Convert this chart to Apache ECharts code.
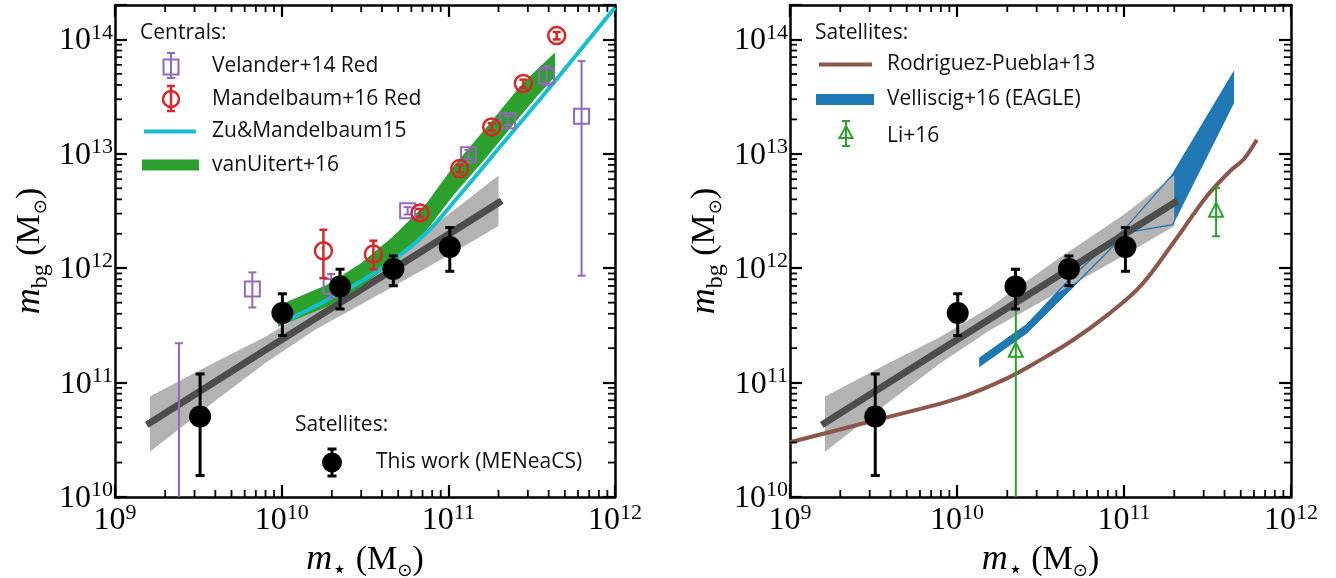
<!DOCTYPE html>
<html><head><meta charset="utf-8">
<script src="https://cdn.jsdelivr.net/npm/echarts@6/dist/echarts.min.js"></script>
<style>html,body{margin:0;padding:0;background:#fff}#c{width:1336px;height:578px}</style>
</head><body><div id="c"></div><script>
// ---------- data ----------
// This work (MENeaCS) satellites, both panels
const thisX  = [3.24e9, 1.01e10, 2.24e10, 4.68e10, 1.02e11];
const thisY  = [5.05e10, 4.06e11, 6.93e11, 9.84e11, 1.53e12];
const thisLo = [1.54e10, 2.58e11, 4.4e11, 7.03e11, 9.4e11];
const thisHi = [1.19e11, 5.98e11, 9.8e11, 1.28e12, 2.27e12];
// best-fit line and its band
const fitX = [1.55e9, 2.09e11];
const fitY = [4.27e10, 3.89e12];
const bandX  = [1.62e9, 3.98e9, 7.94e9, 1.58e10, 3.98e10, 1.0e11, 2.0e11];
const bandHi = [7.55e10, 1.51e11, 2.51e11, 4.57e11, 1.19e12, 2.95e12, 6.46e12];
const bandLo = [2.49e10, 6.92e10, 1.48e11, 2.88e11, 6.07e11, 1.29e12, 2.34e12];
// Velander+14 Red
const velX  = [2.42e9, 6.67e9, 1.98e10, 5.7e10, 1.32e11, 2.27e11, 3.89e11, 6.3e11];
const velY  = [5.0e9, 6.58e11, 6.93e11, 3.18e12, 9.84e12, 1.95e13, 4.78e13, 2.13e13];
const velLo = [1e8, 4.54e11, 5.48e11, 2.95e12, 9.0e12, 1.78e13, 3.96e13, 8.6e11];
const velHi = [2.21e11, 9.2e11, 8.9e11, 3.42e12, 1.08e13, 2.14e13, 5.83e13, 6.46e13];
// Mandelbaum+16 Red
const manX  = [1.78e10, 3.55e10, 6.76e10, 1.17e11, 1.82e11, 2.82e11, 4.47e11];
const manY  = [1.42e12, 1.33e12, 3.04e12, 7.43e12, 1.72e13, 4.12e13, 1.08e14];
const manLo = [8.2e11, 9.8e11, 2.8e12, 6.9e12, 1.6e13, 3.8e13, 1.0e14];
const manHi = [2.17e12, 1.74e12, 3.3e12, 8.0e12, 1.85e13, 4.45e13, 1.16e14];
// Zu & Mandelbaum 15
const zuX = [1.0e10, 1.86e10, 2.95e10, 4.66e10, 7.4e10, 1.17e11, 2.14e11, 3.89e11, 1.0e12];
const zuY = [3.31e11, 5.25e11, 7.59e11, 1.17e12, 2.04e12, 4.37e12, 1.25e13, 3.53e13, 1.9e14];
// van Uitert+16 band
const vuX  = [9.5e9, 1.87e10, 2.95e10, 4.66e10, 7.45e10, 1.07e11, 1.71e11, 2.69e11, 3.40e11, 4.37e11];
const vuHi = [4.70e11, 7.18e11, 1.09e12, 1.89e12, 3.74e12, 7.73e12, 1.73e13, 3.88e13, 5.46e13, 7.69e13];
const vuLo = [3.08e11, 4.60e11, 6.75e11, 1.14e12, 2.17e12, 4.32e12, 9.46e12, 2.12e13, 3.17e13, 4.74e13];
// Rodriguez-Puebla+13
const rpX = [1.0e9, 3.30e9, 1.0e10, 1.99e10, 3.16e10, 4.98e10, 7.94e10, 1.25e11, 1.97e11, 3.13e11, 4.32e11, 5.19e11, 6.24e11];
const rpY = [3.01e10, 4.72e10, 7.24e10, 1.09e11, 1.58e11, 2.37e11, 3.89e11, 6.93e11, 1.66e12, 4.25e12, 7.08e12, 8.91e12, 1.33e13];
// Velliscig+16 (EAGLE) band
const vsX  = [1.37e10, 2.61e10, 4.75e10, 1.04e11, 1.95e11, 4.52e11];
const vsHi = [1.64e11, 3.20e11, 8.09e11, 2.31e12, 6.58e12, 5.12e13];
const vsLo = [1.40e11, 2.72e11, 6.49e11, 2.05e12, 2.40e12, 2.79e13];
// Li+16
const liX  = [2.25e10, 3.56e11];
const liY  = [1.94e11, 3.25e12];
const liLo = [1e8, 1.9e12];
const liHi = [9.7e11, 5.04e12];
// axes
const X_MIN = 1e9, X_MAX = 1e12, Y_MIN = 1e10, Y_MAX = 2e14;
const MINOR = [2,3,4,5,6,7,8,9];

const C = {purple:'#9467bd', red:'#d62728', cyan:'#17becf', green:'#2ca02c', brown:'#8c564b', blue:'#1f77b4', band:'#b3b3b3', fit:'#4d4d4d'};
const SERIF = "'Liberation Serif','DejaVu Serif',serif";
const SANS = "'Open Sans','DejaVu Sans',sans-serif";

function pairs(xs, ys){ return xs.map((x,i)=>[x, ys[i]]); }

function tickFmt(v){
  const e = Math.log10(v), r = Math.round(e);
  if (Math.abs(e - r) > 1e-6) return '';
  return '{b|10}{e|' + r + '}';
}
const tickRich = {
  b:{fontFamily:SERIF, fontSize:32, color:'#000', verticalAlign:'top', padding:[3,0,0,0]},
  e:{fontFamily:SERIF, fontSize:22, color:'#000', verticalAlign:'top'}
};
const nameRich = {
  i:{fontFamily:SERIF, fontStyle:'italic', fontSize:36, color:'#000', verticalAlign:'top'},
  s:{fontFamily:SERIF, fontSize:24, color:'#000', verticalAlign:'top', padding:[17,0,0,0]},
  r:{fontFamily:SERIF, fontSize:34, color:'#000', verticalAlign:'top', padding:[1,0,0,0]},
  o:{fontFamily:"'DejaVu Sans',sans-serif", fontSize:18, color:'#000', verticalAlign:'top', padding:[20,0,0,0]}
};

function xAxes(grid){
  const base = {type:'log', gridIndex:grid, min:X_MIN, max:X_MAX, logBase:10,
    axisLine:{onZero:false, lineStyle:{color:'#000', width:2.5}},
    axisTick:{inside:true, length:12, lineStyle:{color:'#000', width:2.2}},
    splitLine:{show:false}, minorTick:{show:false}};
  return [
    Object.assign({}, base, {position:'bottom',
      axisLabel:{formatter:tickFmt, rich:tickRich, margin:5, showMinLabel:true, showMaxLabel:true, hideOverlap:false},
      name:'{i|m}{s|⋆}{r| (M}{o|⊙}{r|)}', nameLocation:'middle', nameGap:35,
      nameTextStyle:{rich:nameRich, verticalAlign:'top'}}),
    Object.assign({}, base, {position:'top', axisLabel:{show:false}})
  ];
}
function yAxes(grid){
  const base = {type:'log', gridIndex:grid, min:Y_MIN, max:Y_MAX, logBase:10,
    axisLine:{onZero:false, lineStyle:{color:'#000', width:2.5}},
    axisTick:{inside:true, length:12, lineStyle:{color:'#000', width:2.2}},
    splitLine:{show:false}, minorTick:{show:false}};
  return [
    Object.assign({}, base, {position:'left',
      axisLabel:{formatter:tickFmt, rich:tickRich, margin:2, showMaxLabel:true, hideOverlap:false},
      name:'{i|m}{s|bg}{r| (M}{o|⊙}{r|)}', nameLocation:'middle', nameGap:62, nameRotate:90,
      nameTextStyle:{rich:nameRich}}),
    Object.assign({}, base, {position:'right', axisLabel:{show:false}})
  ];
}

function minorTicks(xi, yi){
  const xv = [], yv = [];
  for (let d = 9; d < 12; d++) MINOR.forEach(k=>{ const v = k*Math.pow(10,d); if (v > X_MIN && v < X_MAX) xv.push(v); });
  for (let d = 10; d < 15; d++) MINOR.forEach(k=>{ const v = k*Math.pow(10,d); if (v > Y_MIN && v < Y_MAX*0.999) yv.push(v); });
  return {type:'custom', xAxisIndex:xi, yAxisIndex:yi, silent:true, z:30, clip:false,
    data:[[X_MIN, Y_MIN]],
    renderItem(p, api){
      const ch = [], st = {stroke:'#000', lineWidth:1.8}, L = 7;
      xv.forEach(v=>{
        const b = api.coord([v, Y_MIN]), t = api.coord([v, Y_MAX]);
        ch.push({type:'line', shape:{x1:b[0], y1:b[1], x2:b[0], y2:b[1]-L}, style:st});
        ch.push({type:'line', shape:{x1:t[0], y1:t[1], x2:t[0], y2:t[1]+L}, style:st});
      });
      yv.forEach(v=>{
        const l = api.coord([X_MIN, v]), r = api.coord([X_MAX, v]);
        ch.push({type:'line', shape:{x1:l[0], y1:l[1], x2:l[0]+L, y2:l[1]}, style:st});
        ch.push({type:'line', shape:{x1:r[0], y1:r[1], x2:r[0]-L, y2:r[1]}, style:st});
      });
      return {type:'group', children:ch};
    }};
}

function errSeries(xs, ys, lo, hi, color, lw, cap, xi, yi, z){
  return {type:'custom', xAxisIndex:xi, yAxisIndex:yi, z:z, clip:true, silent:true,
    data: xs.map((x,i)=>[x, ys[i], lo[i], hi[i]]),
    renderItem(p, api){
      const x = api.value(0);
      const a = api.coord([x, api.value(2)]), b = api.coord([x, api.value(3)]);
      const st = {stroke:color, lineWidth:lw};
      return {type:'group', children:[
        {type:'line', shape:{x1:a[0], y1:a[1], x2:b[0], y2:b[1]}, style:st},
        {type:'line', shape:{x1:a[0]-cap, y1:a[1], x2:a[0]+cap, y2:a[1]}, style:st},
        {type:'line', shape:{x1:b[0]-cap, y1:b[1], x2:b[0]+cap, y2:b[1]}, style:st}
      ]};
    }};
}

function bandSeries(xs, hi, lo, style, xi, yi, z){
  return {type:'custom', xAxisIndex:xi, yAxisIndex:yi, z:z, clip:true, silent:true,
    data:[[xs[0], hi[0]]],
    renderItem(p, api){
      const pts = xs.map((x,i)=>api.coord([x, hi[i]]));
      for (let i = xs.length-1; i >= 0; i--) pts.push(api.coord([xs[i], lo[i]]));
      return {type:'polygon', shape:{points:pts}, style:style};
    }};
}

function lineSeries(xs, ys, color, width, xi, yi, z, smooth){
  return {type:'line', xAxisIndex:xi, yAxisIndex:yi, z:z, data:pairs(xs, ys), showSymbol:false,
    symbol:'none', clip:true, silent:true, smooth:smooth || false,
    lineStyle:{color:color, width:width, opacity:1}, itemStyle:{color:color}};
}

function scatterSeries(xs, ys, symbol, size, itemStyle, xi, yi, z){
  return {type:'scatter', xAxisIndex:xi, yAxisIndex:yi, z:z, data:pairs(xs, ys), symbol:symbol,
    symbolSize:size, itemStyle:Object.assign({opacity:1}, itemStyle), clip:true, silent:true};
}

const series = [
  // ---- left panel ----
  bandSeries(bandX, bandHi, bandLo, {fill:C.band}, 0, 0, 1),
  lineSeries(fitX, fitY, C.fit, 7, 0, 0, 2),
  bandSeries(vuX, vuHi, vuLo, {fill:C.green}, 0, 0, 3),
  lineSeries(zuX, zuY, C.cyan, 4, 0, 0, 4, 0.35),
  scatterSeries(velX, velY, 'rect', 15, {color:'rgba(0,0,0,0)', borderColor:C.purple, borderWidth:2}, 0, 0, 5),
  errSeries(velX, velY, velLo, velHi, C.purple, 2, 4, 0, 0, 5),
  scatterSeries(manX, manY, 'circle', 17, {color:'rgba(0,0,0,0)', borderColor:C.red, borderWidth:2.5}, 0, 0, 6),
  errSeries(manX, manY, manLo, manHi, C.red, 2.5, 4, 0, 0, 6),
  errSeries(thisX, thisY, thisLo, thisHi, '#000', 3, 4.5, 0, 0, 7),
  scatterSeries(thisX, thisY, 'circle', 22, {color:'#000'}, 0, 0, 8),
  minorTicks(0, 0),
  // ---- right panel ----
  bandSeries(vsX, vsHi, vsLo, {fill:C.blue}, 2, 2, 1),
  bandSeries(bandX, bandHi, bandLo, {fill:C.band}, 2, 2, 2),
  bandSeries(vsX, vsHi, vsLo, {fill:'none', stroke:C.blue, lineWidth:1.3}, 2, 2, 3),
  lineSeries(fitX, fitY, C.fit, 7, 2, 2, 4),
  lineSeries(rpX, rpY, C.brown, 4, 2, 2, 5, 0.35),
  scatterSeries(liX, liY, 'triangle', 14, {color:'rgba(0,0,0,0)', borderColor:C.green, borderWidth:2}, 2, 2, 6),
  errSeries(liX, liY, liLo, liHi, C.green, 2, 4, 2, 2, 6),
  errSeries(thisX, thisY, thisLo, thisHi, '#000', 3, 4.5, 2, 2, 7),
  scatterSeries(thisX, thisY, 'circle', 22, {color:'#000'}, 2, 2, 8),
  minorTicks(2, 2)
];

// ---------- legends (layout only) ----------
function txt(x, y, s){ return {type:'text', x:x, y:y, z:100, silent:true,
  style:{text:s, font:'21px ' + SANS, fill:'#111', verticalAlign:'middle', textVerticalAlign:'middle', align:'left'}}; }
function ln(x1, y1, x2, y2, color, w){ return {type:'line', z:100, silent:true, shape:{x1,y1,x2,y2}, style:{stroke:color, lineWidth:w}}; }
function ebar(x, y1, y2, color, w, cap){ return [ln(x,y1,x,y2,color,w), ln(x-cap,y1,x+cap,y1,color,w), ln(x-cap,y2,x+cap,y2,color,w)]; }
const graphics = [
  txt(140, 33, 'Centrals:'),
  {type:'rect', z:100, silent:true, shape:{x:163.5, y:59.5, width:15, height:15}, style:{fill:'none', stroke:C.purple, lineWidth:2}},
  ...ebar(171, 53, 78, C.purple, 2, 4),
  txt(212, 66.5, 'Velander+14 Red'),
  {type:'circle', z:100, silent:true, shape:{cx:171, cy:99, r:8}, style:{fill:'none', stroke:C.red, lineWidth:2.5}},
  ...ebar(171, 86, 111, C.red, 2.5, 4),
  txt(212, 99, 'Mandelbaum+16 Red'),
  ln(144, 131.5, 196, 131.5, C.cyan, 4),
  txt(212, 131.5, 'Zu&Mandelbaum15'),
  {type:'rect', z:100, silent:true, shape:{x:142, y:159.5, width:57, height:11}, style:{fill:C.green}},
  txt(212, 165, 'vanUitert+16'),
  txt(295, 425, 'Satellites:'),
  ...ebar(332, 449, 476, '#000', 3, 4.5),
  {type:'circle', z:100, silent:true, shape:{cx:332, cy:462.5, r:10}, style:{fill:'#000'}},
  txt(376, 462.5, 'This work (MENeaCS)'),
  // right
  txt(815, 33, 'Satellites:'),
  ln(819, 64.5, 872, 64.5, C.brown, 4),
  txt(887, 64.5, 'Rodriguez-Puebla+13'),
  {type:'rect', z:100, silent:true, shape:{x:816, y:94, width:58, height:11}, style:{fill:C.blue}},
  txt(887, 99, 'Velliscig+16 (EAGLE)'),
  {type:'polygon', z:100, silent:true, shape:{points:[[846,126],[852.5,138],[839.5,138]]}, style:{fill:'none', stroke:C.green, lineWidth:2}},
  ...ebar(846, 121, 146, C.green, 2, 4),
  txt(887, 136, 'Li+16')
];

const chart = echarts.init(document.getElementById('c'), null, {renderer:'canvas'});
chart.setOption({
  animation:false,
  backgroundColor:'#fff',
  grid:[
    {left:115, top:5, width:500, height:492, containLabel:false, outerBoundsMode:'none'},
    {left:790, top:5, width:501, height:492, containLabel:false, outerBoundsMode:'none'}
  ],
  xAxis:[...xAxes(0), ...xAxes(1)],
  yAxis:[...yAxes(0), ...yAxes(1)],
  series:series,
  graphic:{elements:graphics}
});
</script></body></html>
